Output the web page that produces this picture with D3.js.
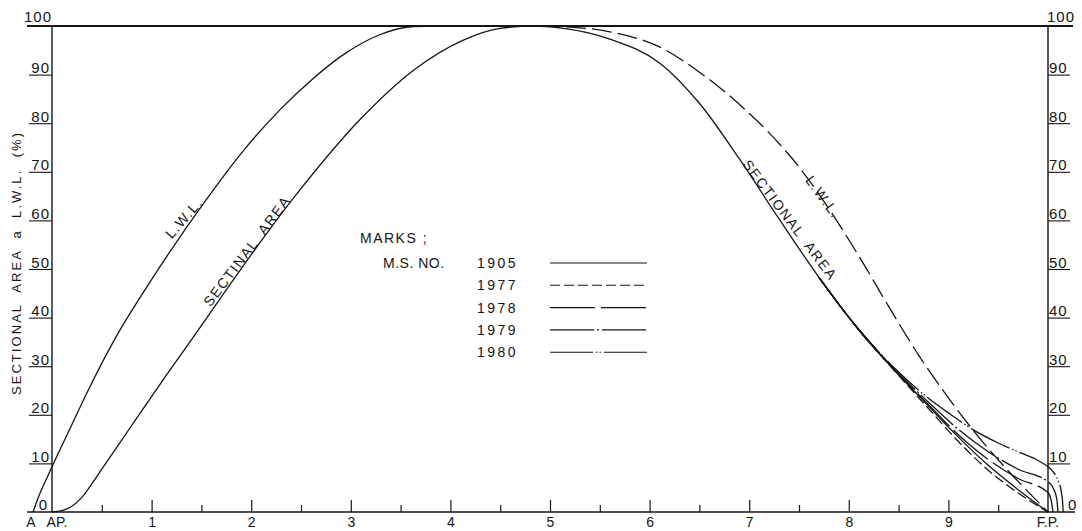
<!DOCTYPE html>
<html>
<head>
<meta charset="utf-8">
<script src="https://cdn.jsdelivr.net/npm/d3@7"></script>
<style>
body { margin: 0; background: #fff; }
svg text { font-family: "Liberation Sans", Arial, sans-serif; fill: #151515; }
</style>
</head>
<body>
<svg id="chart" width="1082" height="531"></svg>
<script>
// stations: A.P. = 0 ... F.P. = 10, values in % of max
const lwlAft = [[-0.19, 0], [-0.13, 3.4], [-0.06, 6.6], [0, 9.3], [0.2, 18], [0.35, 24.5], [0.65, 36.3],
                [0.98, 47.2], [1.54, 64], [1.92, 74.3], [2.29, 82.8], [2.6, 88.8], [2.89, 93.6], [3.29, 98.2],
                [3.63, 99.9], [3.9, 100]]
const lwlFwd = [[4.9, 100], [5.1, 99.9], [5.6, 98.8], [6.1, 95.7], [6.5, 90.5], [6.9, 83.9], [7.2, 78], [7.5, 71],
                [7.8, 62.4], [8.1, 52.7], [8.4, 42.3], [8.7, 32.3], [9.0, 23.5], [9.3, 15.5], [9.6, 8.5], [10, 0]]
const areaMain = [[0, 0], [0.1, 0.3], [0.2, 1.2], [0.3, 3], [0.4, 5.8], [0.5, 8.8], [0.6, 11.8], [0.8, 17.8],
                  [1.15, 28.2], [1.36, 34.3], [2.42, 64.5], [3.09, 80.7], [3.63, 90.9], [4.13, 97.1], [4.5, 99.5],
                  [4.85, 100], [5.1, 99.6], [5.6, 97.3], [6.1, 92.4], [6.5, 84.1], [6.9, 72.7], [7.3, 60.3],
                  [7.7, 48.3], [8.1, 37.5], [8.5, 28.3]]
// bow end of the sectional area curve, one per ship
const area1905 = [[7.7, 48.3], [8.1, 37.5], [8.5, 28.3], [8.8, 21.8], [9.1, 15.4], [9.4, 9.6], [9.7, 4.6], [10, 0]]
const area1977 = [[7.7, 48.3], [8.1, 37.5], [8.5, 28.1], [8.8, 21.3], [9.1, 14.5], [9.4, 8.6], [9.7, 3.9], [10, 0]]
const area1978 = [[7.7, 48.3], [8.1, 37.5], [8.5, 28.4], [8.8, 22.1], [9.1, 15.9], [9.4, 10.8], [9.7, 6.9], [10, 4],
                  [10.03, 2.6], [10.05, 0]]
const area1979 = [[7.7, 48.3], [8.1, 37.5], [8.5, 28.5], [8.8, 22.6], [9.1, 17], [9.4, 12.4], [9.7, 8.8], [10, 6.2],
                  [10.06, 4.6], [10.09, 2.4], [10.1, 0]]
const area1980 = [[7.7, 48.3], [8.1, 37.6], [8.5, 28.8], [8.8, 23.4], [9.02, 20.1], [9.25, 16.9], [9.5, 14.2],
                  [9.72, 12.2], [9.9, 10.6], [10, 9.3], [10.05, 8.3], [10.1, 6.5], [10.135, 4], [10.15, 1], [10.152, 0]]

const marks = ["1905", "1977", "1978", "1979", "1980"]
const yTicks = d3.range(0, 101, 10)
const xMajor = d3.range(1, 10)
const xMinor = d3.range(0.5, 10, 1)

const dashes = {"1905": null, "1977": "10,4", "1978": "45,6", "1979": "44,3,2,3", "1980": "43,3,1.5,2,1.5,3"}

const svg = d3.select("#chart")
const x = d3.scaleLinear().domain([0, 10]).range([52, 1048])
const y = d3.scaleLinear().domain([0, 100]).range([512, 26])
const ink = "#151515"

// small helper so attribute objects can be set in one go
const at = (sel, o) => { Object.entries(o).forEach(([k, v]) => sel.attr(k, v)); return sel }

const line = d3.line().x(d => x(d[0])).y(d => y(d[1])).curve(d3.curveMonotoneX)

// frame
const frame = [[27, 1073, y(100), y(100), 1.8], [27, 1075, y(0), y(0), 1.4],
               [x(0), x(0), y(0), y(100), 1.4], [x(10), x(10), y(0), y(100), 1.4]]
svg.selectAll(".frame").data(frame).enter().append("line")
   .attr("x1", d => d[0]).attr("x2", d => d[1]).attr("y1", d => d[2]).attr("y2", d => d[3])
   .attr("stroke", ink).attr("stroke-width", d => d[4])

// side axes: labels sit on top of the tick lines
const yl = svg.append("g").attr("transform", `translate(${x(0)},0)`)
    .call(d3.axisLeft(y).tickValues(yTicks).tickSize(23).tickFormat(d3.format("d")))
const yr = svg.append("g").attr("transform", `translate(${x(10)},0)`)
    .call(d3.axisRight(y).tickValues(yTicks).tickSize(22).tickFormat(d3.format("d")))
;[yl, yr].forEach((g, i) => {
    g.select(".domain").remove()
    g.selectAll("line").attr("stroke", ink).attr("stroke-width", 1.1)
    g.selectAll(".tick").filter(d => d === 0 || d === 100).select("line").remove()
    g.selectAll("text")
     .attr("x", i === 0 ? -2 : 1)
     .attr("dy", -2).attr("y", 0)
     .attr("text-anchor", i === 0 ? "end" : "start")
     .attr("fill", ink)
     .style("font-size", "15px").style("letter-spacing", "1px")
    g.selectAll(".tick").filter(d => d === 100).select("text").attr("dy", -5).attr("x", i === 0 ? 0 : -1)
    g.selectAll(".tick").filter(d => d === 0).select("text")
     .attr("x", i === 0 ? -4 : 20).attr("dy", -3)
})

// bottom axis, ticks pointing up
const xa = svg.append("g").attr("transform", `translate(0,${y(0)})`)
xa.call(d3.axisBottom(x).tickValues(xMinor).tickSize(-7).tickFormat(""))
xa.append("g").call(d3.axisBottom(x).tickValues(xMajor).tickSize(-12).tickPadding(5))
xa.selectAll(".domain").remove()
xa.selectAll("line").attr("stroke", ink).attr("stroke-width", 1.2)
xa.selectAll("text").style("font-size", "14px").attr("fill", ink)

at(svg.append("text"), {x: 31, y: 527, "text-anchor": "middle"}).style("font-size", "14px").text("A")
at(svg.append("text"), {x: 57, y: 527, "text-anchor": "middle"}).style("font-size", "14px").text("AP.")
at(svg.append("text"), {x: x(10), y: 527, "text-anchor": "middle"}).style("font-size", "14px").text("F.P.")

// y title
svg.append("text")
   .attr("transform", "translate(21,264) rotate(-90)")
   .attr("text-anchor", "middle")
   .attr("textLength", 262).attr("lengthAdjust", "spacing")
   .style("font-size", "13px").style("white-space", "pre")
   .text("SECTIONAL  AREA  a  L.W.L.  (%)")

// curves
const curves = [
    {d: lwlAft, dash: null},
    {d: lwlFwd, dash: "20,6"},
    {d: areaMain, dash: null},
    {d: area1905, dash: dashes["1905"]},
    {d: area1977, dash: dashes["1977"]},
    {d: area1978, dash: dashes["1978"]},
    {d: area1979, dash: dashes["1979"]},
    {d: area1980, dash: dashes["1980"]}
]
svg.selectAll(".curve").data(curves).enter().append("path")
   .attr("class", "curve")
   .attr("d", c => line(c.d))
   .attr("fill", "none").attr("stroke", ink).attr("stroke-width", 1.3)
   .attr("stroke-dasharray", c => c.dash)

// curve labels
const labels = [
    {t: "L.W.L.", cx: 184, cy: 218, r: -49},
    {t: "SECTINAL  AREA", cx: 247, cy: 251, r: -53},
    {t: "SECTIONAL  AREA", cx: 790, cy: 220, r: 53},
    {t: "L.W.L.", cx: 823, cy: 197, r: 54}
]
svg.selectAll(".clab").data(labels).enter().append("text")
   .attr("transform", d => `translate(${d.cx},${d.cy}) rotate(${d.r})`)
   .attr("text-anchor", "middle").attr("dy", "0.35em")
   .style("font-size", "14px").style("letter-spacing", "1.5px").style("white-space", "pre")
   .text(d => d.t)

// legend
const lg = svg.append("g")
at(lg.append("text"), {x: 360, y: 243}).style("font-size", "14px").style("letter-spacing", "1.5px").text("MARKS ;")
at(lg.append("text"), {x: 383, y: 268}).style("font-size", "14px").style("letter-spacing", "0.5px").text("M.S. NO.")
const rows = lg.selectAll(".row").data(marks).enter().append("g")
    .attr("transform", (d, i) => `translate(0,${263 + i * 22.3})`)
at(rows.append("text"), {x: 477, y: 5}).style("font-size", "14px").style("letter-spacing", "2.5px").text(d => d)
at(rows.append("line"), {x1: 550, x2: 647, y1: 0, y2: 0})
    .attr("stroke", ink).attr("stroke-width", 1.1)
    .attr("stroke-dasharray", d => dashes[d])
</script>
</body>
</html>
